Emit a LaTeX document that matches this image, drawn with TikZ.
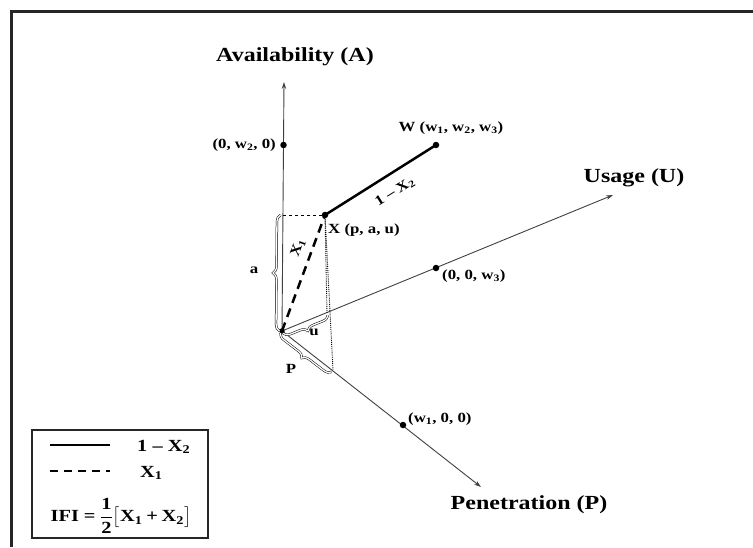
\documentclass[tikz,border=0pt]{standalone}
\usepackage{fontspec}
\usepackage{amsmath}
\setmainfont{Liberation Serif}[FakeStretch=1.2]
\usetikzlibrary{positioning,arrows.meta,decorations.pathreplacing}

\tikzset{
  axis/.style={draw=black!75, line width=0.9pt, -{Stealth[length=7pt,width=4.5pt]}},
  pt/.style={circle, fill=black, inner sep=0pt, minimum size=6.5pt},
  axislabel/.style={font=\bfseries\fontsize{20}{22}\selectfont},
  coordlabel/.style={font=\bfseries\fontsize{14}{16}\selectfont, inner sep=1pt},
  legendlabel/.style={font=\bfseries\fontsize{17}{19}\selectfont, inner sep=1pt},
  hollowbrace/.style={decorate, decoration={brace, amplitude=7pt, raise=2.5pt},
    draw=black, line width=0.5pt, double=white, double distance=1.3pt},
}

\begin{document}
\begin{tikzpicture}[x=1pt, y=-1pt]
  \useasboundingbox (0,0) rectangle (753,547);

  % === FRAME ===
  \draw[line width=3pt, black!85] (753,11) -- (11,11) -- (11,547);

  % === AXES ===
  \coordinate (O) at (282,331);
  \coordinate (Atip) at (284,82);
  \coordinate (Utip) at (613,195);
  \coordinate (Ptip) at (481,487);
  \draw[axis] (O) -- (Atip);
  \draw[axis] (O) -- (Utip);
  \draw[axis] (O) -- (Ptip);

  \node[axislabel] (Alab) at (295,57) {Availability (A)};
  \node[axislabel] (Ulab) at (634,178) {Usage (U)};
  \node[axislabel] (Plab) at (529,505) {Penetration (P)};

  % Projections of X
  \coordinate (Xa) at (283,215);
  \coordinate (Xu) at (327,313);
  \coordinate (Xp) at (333,370);

  % Points
  \node[pt] (A2) at (283.5,145) {};
  \node[pt] (U3) at (436,268) {};
  \node[pt] (P1) at (403,425) {};
  \node[pt] (W) at (436,145) {};
  \node[pt] (X) at (325,215) {};
  \node[pt, minimum size=5.5pt] (Odot) at (O) {};

  % Guide lines
  \draw[dashed, line width=0.6pt] (Xa) -- (X.center);
  \draw[densely dotted, line width=0.9pt] (X.center) -- (Xu);
  \draw[densely dotted, line width=0.9pt] (X.center) -- (Xp);

  % Distances
  \draw[line width=2.5pt] (X.center) -- (W.center);
  \draw[line width=2.5pt, dash pattern=on 9pt off 6pt] (Odot.center) -- (X.center);

  % Braces
  \draw[hollowbrace] (O) -- (Xa);
  \draw[hollowbrace] (Xu) -- (O);
  \draw[hollowbrace] (Xp) -- (O);
  \node[coordlabel] (alab) at (254,270) {a};
  \node[coordlabel] (ulab) at (314,332) {u};
  \node[coordlabel] (plab) at (291,369) {P};

  % Point labels
  \node[coordlabel, left=3pt of A2] (A2lab) {(0, w\textsubscript{2}, 0)};
  \node[coordlabel, anchor=south] (Wlab) at (451,136)
    {W (w\textsubscript{1}, w\textsubscript{2}, w\textsubscript{3})};
  \node[coordlabel, anchor=west] (Xlab) at (327,230) {X (p, a, u)};
  \node[coordlabel, anchor=west] (U3lab) at (441,276) {(0, 0, w\textsubscript{3})};
  \node[coordlabel, anchor=west] (P1lab) at (407,419) {(w\textsubscript{1}, 0, 0)};
  \node[coordlabel, rotate=32] (x2lab) at (395,192) {1 -- X\textsubscript{2}};
  \node[coordlabel, rotate=70] (x1lab) at (298,248) {X\textsubscript{1}};

  % === LEGEND ===
  \draw[line width=2.5pt, black!85] (32,430) rectangle (208,538);
  \coordinate (solidA) at (50,445);
  \coordinate (solidB) at (110,445);
  \coordinate (dashA) at (50,471);
  \coordinate (dashB) at (110,471);
  \draw[line width=1.6pt] (solidA) -- (solidB);
  \draw[line width=1.8pt, dash pattern=on 8pt off 6pt] (dashA) -- (dashB);
  \node[legendlabel, anchor=west] (solidlab) at (136,447) {1 -- X\textsubscript{2}};
  \node[legendlabel, anchor=west] (dashlab) at (139,473) {X\textsubscript{1}};
  \node[legendlabel] (ifi) at (121,516)
    {$\text{IFI} \mathrel{\text{=}} \dfrac{\text{1}}{\text{2}}
      \big[\text{X}_{\text{1}} \mathbin{\text{+}} \text{X}_{\text{2}}\big]$};

\end{tikzpicture}
\end{document}
